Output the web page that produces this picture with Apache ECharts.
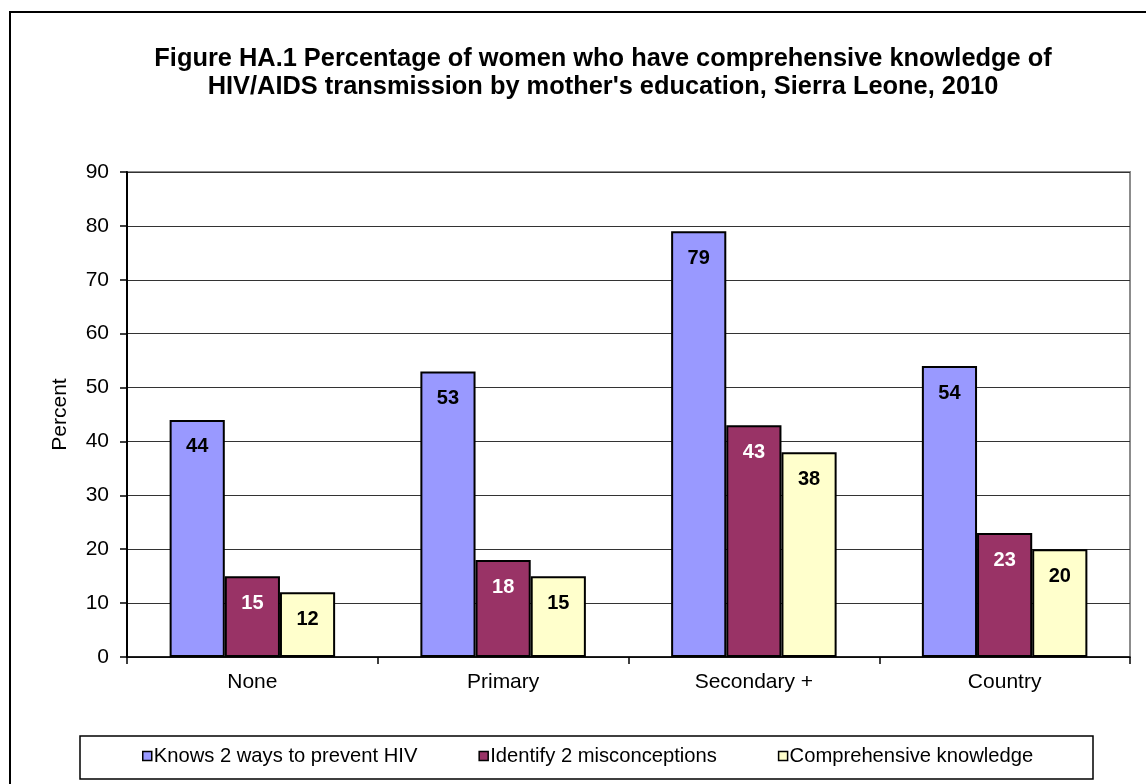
<!DOCTYPE html>
<html lang="en">
<head>
    <meta charset="UTF-8">
    <title>Figure HA.1</title>
    <script src="https://cdn.jsdelivr.net/npm/echarts@6/dist/echarts.min.js"></script>
    <style>
        html, body { margin: 0; padding: 0; background: #fff; }
        #chart { width: 1146px; height: 784px; }
    </style>
</head>
<body>
<div id="chart"></div>
<script>
    // data
    var categories = ['None', 'Primary', 'Secondary +', 'Country'];
    var knowsTwoWays = [44, 53, 79, 54];
    var misconceptions = [15, 18, 43, 23];
    var comprehensive = [12, 15, 38, 20];
    var seriesNames = ['Knows 2 ways to prevent HIV', 'Identify 2 misconceptions', 'Comprehensive knowledge'];

    var font = 'Liberation Sans, Arial, sans-serif';

    function barSeries(name, data, color, labelColor) {
        return {
            name: name,
            type: 'bar',
            data: data,
            barGap: '0%',
            barCategoryGap: '34%',
            itemStyle: {color: color, borderColor: '#000', borderWidth: 2},
            label: {
                show: true,
                position: 'insideTop',
                distance: 17,
                color: labelColor,
                fontFamily: font,
                fontWeight: 'bold',
                fontSize: 20
            }
        };
    }

    var chart = echarts.init(document.getElementById('chart'));
    chart.setOption({
        animation: false,
        title: {
            text: 'Figure HA.1 Percentage of women who have comprehensive knowledge of\nHIV/AIDS transmission by mother\'s education, Sierra Leone, 2010',
            left: 598,
            textAlign: 'center',
            top: 40,
            textStyle: {fontFamily: font, fontWeight: 'bold', fontSize: 25.4, lineHeight: 28, color: '#000'}
        },
        //外框和图例框
        graphic: [
            {type: 'rect', shape: {x: 10, y: 12, width: 1200, height: 820}, style: {fill: null, stroke: '#000', lineWidth: 2}, silent: true},
            {type: 'rect', shape: {x: 80, y: 736, width: 1013, height: 43}, style: {fill: null, stroke: '#000', lineWidth: 1.5}, silent: true}
        ],
        legend: {
            data: seriesNames,
            left: 137,
            top: 741,
            itemWidth: 9,
            itemHeight: 9,
            itemGap: 61,
            icon: 'rect',
            itemStyle: {borderColor: '#000', borderWidth: 1.5},
            textStyle: {fontFamily: font, fontSize: 20.2, color: '#000', padding: [0, 0, 0, -3]}
        },
        grid: {
            left: 127, right: 16, top: 172, bottom: 127,
            show: true, borderColor: '#8c8c8c', borderWidth: 2
        },
        xAxis: {
            type: 'category',
            data: categories,
            axisLine: {lineStyle: {color: '#000', width: 1.5}},
            axisTick: {show: true, length: 7, lineStyle: {color: '#000', width: 1.5}},
            axisLabel: {fontFamily: font, fontSize: 21, color: '#000', margin: 15}
        },
        yAxis: {
            type: 'value',
            min: 0,
            max: 90,
            interval: 10,
            name: 'Percent',
            nameLocation: 'middle',
            nameRotate: 90,
            nameGap: 56,
            nameTextStyle: {fontFamily: font, fontSize: 21, color: '#000'},
            axisLine: {show: true, lineStyle: {color: '#000', width: 2}},
            axisTick: {show: true, length: 7, lineStyle: {color: '#000', width: 1.5}},
            axisLabel: {fontFamily: font, fontSize: 21, color: '#000', margin: 18},
            splitLine: {lineStyle: {color: '#333', width: 1.2}}
        },
        series: [
            barSeries(seriesNames[0], knowsTwoWays, '#9999FF', '#000'),
            barSeries(seriesNames[1], misconceptions, '#993366', '#fff'),
            barSeries(seriesNames[2], comprehensive, '#FFFFCC', '#000')
        ]
    });
</script>
</body>
</html>
